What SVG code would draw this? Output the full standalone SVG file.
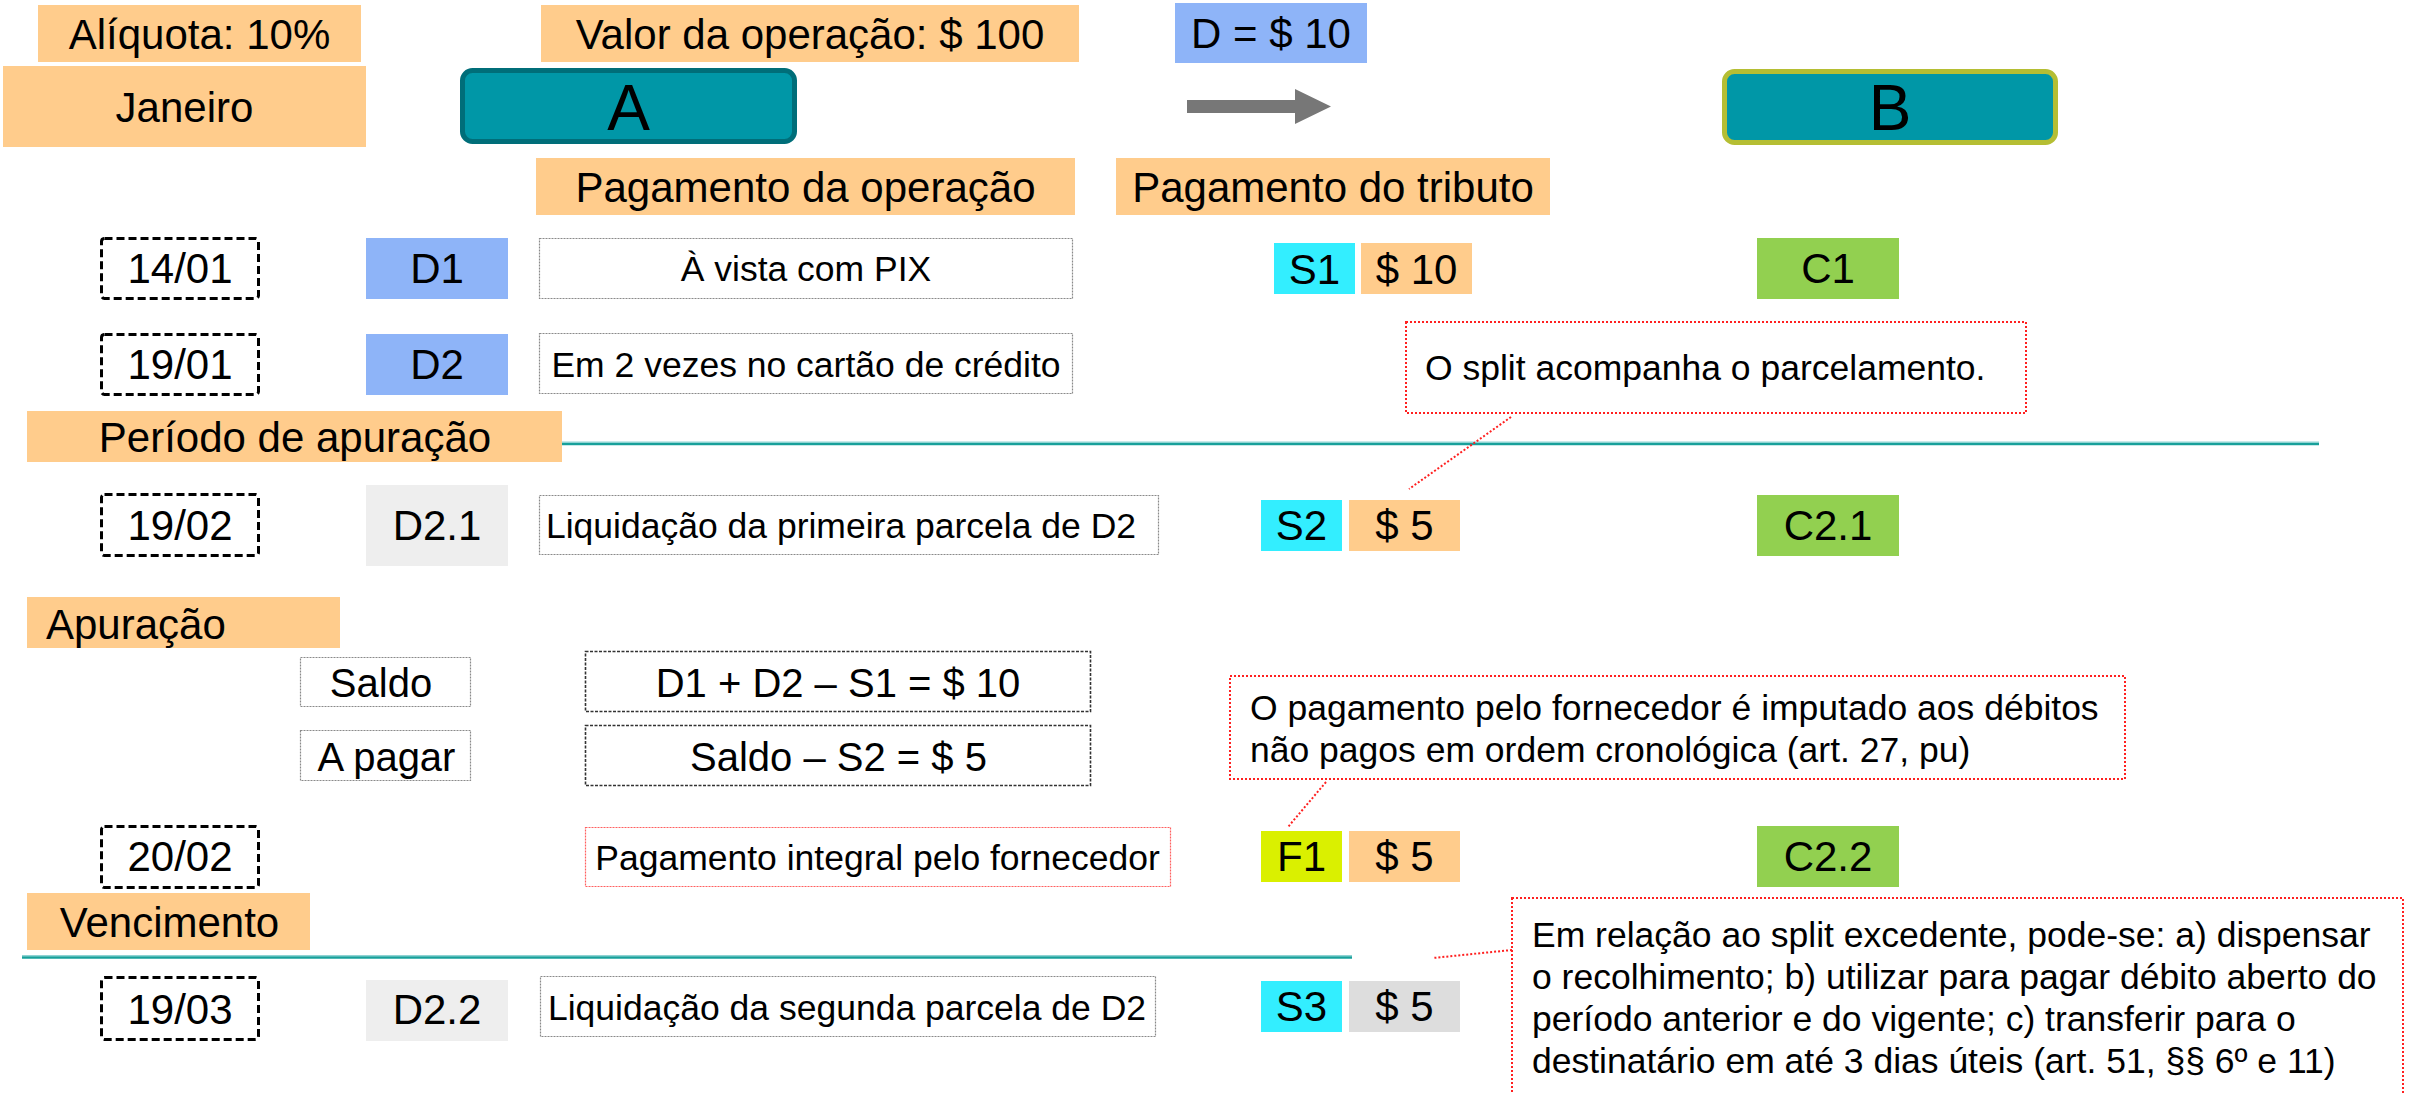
<svg xmlns="http://www.w3.org/2000/svg" width="2425" height="1094" viewBox="0 0 2425 1094">
<style>
text{font-family:"Liberation Sans",Arial,sans-serif;fill:#000}
.b{font-size:42px}
.s{font-size:35.5px}
.m{font-size:40px}
.c{text-anchor:middle}
.peach{fill:#FFCC8C}
.blue{fill:#8EB4F8}
.cyan{fill:#33EEFF}
.green{fill:#92D050}
.lgray{fill:#EEEEEE}
.date{fill:#fff;stroke:#000;stroke-width:3;stroke-dasharray:8 4}
.dot{fill:#fff;stroke:#8a8a8a;stroke-width:1.2;stroke-dasharray:2 1}
.dash{fill:#fff;stroke:#333;stroke-width:1.6;stroke-dasharray:3 1.5}
.red{fill:#fff;stroke:#FF2020;stroke-width:2;stroke-dasharray:2 2}
.redl{fill:none;stroke:#FF2020;stroke-width:2;stroke-dasharray:2 2}
.divl{stroke:#8FD3D3;stroke-width:4}
.divd{stroke:#18A09A;stroke-width:2}
</style>
<rect width="2425" height="1094" fill="#fff"/>

<g id="aliquota"><rect class="peach" x="38" y="5" width="323" height="57"/><text class="b c" x="199.5" y="49">Alíquota: 10%</text></g>
<g id="valor"><rect class="peach" x="541" y="5" width="538" height="57"/><text class="b c" x="810" y="49">Valor da operação: $ 100</text></g>
<g id="dvalor"><rect class="blue" x="1175" y="3" width="192" height="60"/><text class="b c" x="1271" y="48">D = $ 10</text></g>
<g id="janeiro"><rect class="peach" x="3" y="66" width="363" height="81"/><text class="b c" x="184.5" y="121.5">Janeiro</text></g>
<g id="nodeA"><rect x="462.5" y="70.5" width="332" height="71" rx="10" fill="#0097A7" stroke="#006E79" stroke-width="5"/><text class="c" x="628.5" y="130" font-size="64">A</text></g>
<g id="nodeB"><rect x="1724.5" y="71.5" width="331" height="71" rx="10" fill="#0097A7" stroke="#B5BE33" stroke-width="5"/><text class="c" x="1890" y="130" font-size="64">B</text></g>
<g id="pagop"><rect class="peach" x="536" y="158" width="539" height="57"/><text class="b c" x="805.5" y="201.5">Pagamento da operação</text></g>
<g id="pagtrib"><rect class="peach" x="1116" y="158" width="434" height="57"/><text class="b c" x="1333" y="201.5">Pagamento do tributo</text></g>

<g id="d1401"><rect class="date" x="101.5" y="238.5" width="157" height="60" rx="3"/><text class="b c" x="180" y="283">14/01</text></g>
<g id="D1"><rect class="blue" x="366" y="238" width="142" height="61"/><text class="b c" x="437" y="283">D1</text></g>
<g id="pix"><rect class="dot" x="539.5" y="238.5" width="533" height="60"/><text class="s c" x="806" y="281">À vista com PIX</text></g>
<g id="S1"><rect class="cyan" x="1274" y="243" width="81" height="51"/><text class="b c" x="1314.5" y="283.5">S1</text></g>
<g id="v10"><rect class="peach" x="1361" y="243" width="111" height="51"/><text class="b c" x="1416.5" y="283.5">$ 10</text></g>
<g id="C1"><rect class="green" x="1757" y="238" width="142" height="61"/><text class="b c" x="1828" y="283">C1</text></g>

<g id="d1901"><rect class="date" x="101.5" y="334.5" width="157" height="60" rx="3"/><text class="b c" x="180" y="379">19/01</text></g>
<g id="D2"><rect class="blue" x="366" y="334" width="142" height="61"/><text class="b c" x="437" y="379">D2</text></g>
<g id="cartao"><rect class="dot" x="539.5" y="333.5" width="533" height="60"/><text class="s c" x="806" y="377">Em 2 vezes no cartão de crédito</text></g>

<g id="callout1"><rect class="red" x="1406" y="322" width="620" height="91"/><text class="s" x="1425" y="380">O split acompanha o parcelamento.</text></g>

<g id="periodo"><rect class="peach" x="27" y="411" width="535" height="51"/><text class="b c" x="295" y="452">Período de apuração</text></g>

<g id="d1902"><rect class="date" x="101.5" y="494.5" width="157" height="61" rx="3"/><text class="b c" x="180" y="540">19/02</text></g>
<g id="D21"><rect class="lgray" x="366" y="485" width="142" height="81"/><text class="b c" x="437" y="540">D2.1</text></g>
<g id="liq1"><rect class="dot" x="539.5" y="495.5" width="619" height="59"/><text class="s c" x="841" y="538">Liquidação da primeira parcela de D2</text></g>
<g id="S2"><rect class="cyan" x="1261" y="500" width="81" height="51"/><text class="b c" x="1301.5" y="540">S2</text></g>
<g id="v5a"><rect class="peach" x="1349" y="500" width="111" height="51"/><text class="b c" x="1404.5" y="540">$ 5</text></g>
<g id="C21"><rect class="green" x="1757" y="495" width="142" height="61"/><text class="b c" x="1828" y="540">C2.1</text></g>

<g id="apuracao"><rect class="peach" x="27" y="597" width="313" height="51"/><text class="b" x="46" y="639">Apuração</text></g>
<g id="saldo"><rect class="dot" x="300.5" y="657.5" width="170" height="49"/><text class="m c" x="381" y="697">Saldo</text></g>
<g id="saldoval"><rect class="dash" x="585.5" y="651.5" width="505" height="60"/><text class="m c" x="838" y="697">D1 + D2 – S1 = $ 10</text></g>
<g id="apagar"><rect class="dot" x="300.5" y="730.5" width="170" height="50"/><text class="m c" x="386.5" y="771">A pagar</text></g>
<g id="apagarval"><rect class="dash" x="585.5" y="725.5" width="505" height="60"/><text class="m c" x="838.5" y="771">Saldo – S2 = $ 5</text></g>

<g id="callout2"><rect class="red" x="1230" y="676" width="895" height="103"/><text class="s" x="1250" y="720">O pagamento pelo fornecedor é imputado aos débitos</text><text class="s" x="1250" y="762">não pagos em ordem cronológica (art. 27, pu)</text></g>

<g id="d2002"><rect class="date" x="101.5" y="826.5" width="157" height="61" rx="3"/><text class="b c" x="180" y="871">20/02</text></g>
<g id="integral"><rect x="585.5" y="827.5" width="585" height="59" fill="#fff" stroke="#FF6060" stroke-width="1.2" stroke-dasharray="2 1"/><text class="s c" x="877.5" y="870">Pagamento integral pelo fornecedor</text></g>
<g id="F1"><rect x="1261" y="831" width="81" height="51" fill="#DAF000"/><text class="b c" x="1301.5" y="871">F1</text></g>
<g id="v5b"><rect class="peach" x="1349" y="831" width="111" height="51"/><text class="b c" x="1404.5" y="871">$ 5</text></g>
<g id="C22"><rect class="green" x="1757" y="826" width="142" height="61"/><text class="b c" x="1828" y="871">C2.2</text></g>

<g id="vencimento"><rect class="peach" x="27" y="893" width="283" height="57"/><text class="b c" x="169.5" y="936.5">Vencimento</text></g>

<g id="d1903"><rect class="date" x="101.5" y="977.5" width="157" height="62" rx="3"/><text class="b c" x="180" y="1024">19/03</text></g>
<g id="D22"><rect class="lgray" x="366" y="980" width="142" height="61"/><text class="b c" x="437" y="1024">D2.2</text></g>
<g id="liq2"><rect class="dot" x="540.5" y="976.5" width="615" height="60"/><text class="s c" x="847" y="1020">Liquidação da segunda parcela de D2</text></g>
<g id="S3"><rect class="cyan" x="1261" y="981" width="81" height="51"/><text class="b c" x="1301.5" y="1021">S3</text></g>
<g id="v5c"><rect x="1349" y="981" width="111" height="51" fill="#DDDDDD"/><text class="b c" x="1404.5" y="1021">$ 5</text></g>

<g id="callout3"><rect class="red" x="1512" y="898" width="891" height="220"/><text class="s" x="1532" y="947">Em relação ao split excedente, pode-se: a) dispensar</text><text class="s" x="1532" y="989">o recolhimento; b) utilizar para pagar débito aberto do</text><text class="s" x="1532" y="1031">período anterior e do vigente; c) transferir para o</text><text class="s" x="1532" y="1073">destinatário em até 3 dias úteis (art. 51, §§ 6º e 11)</text></g>

<g id="connectors">
<line class="divl" x1="562" y1="443.5" x2="2319" y2="443.5"/><line class="divd" x1="562" y1="444" x2="2319" y2="444"/>
<line class="divl" x1="22" y1="957" x2="1352" y2="957"/><line class="divd" x1="22" y1="957.5" x2="1352" y2="957.5"/>
<polygon points="1187,100 1295,100 1295,89 1331,106.5 1295,124 1295,113 1187,113" fill="#777777"/>
<line class="redl" x1="1511" y1="417" x2="1409" y2="489"/>
<line class="redl" x1="1326" y1="782" x2="1288" y2="827"/>
<line class="redl" x1="1512" y1="950" x2="1433" y2="958"/>
</g>
</svg>
